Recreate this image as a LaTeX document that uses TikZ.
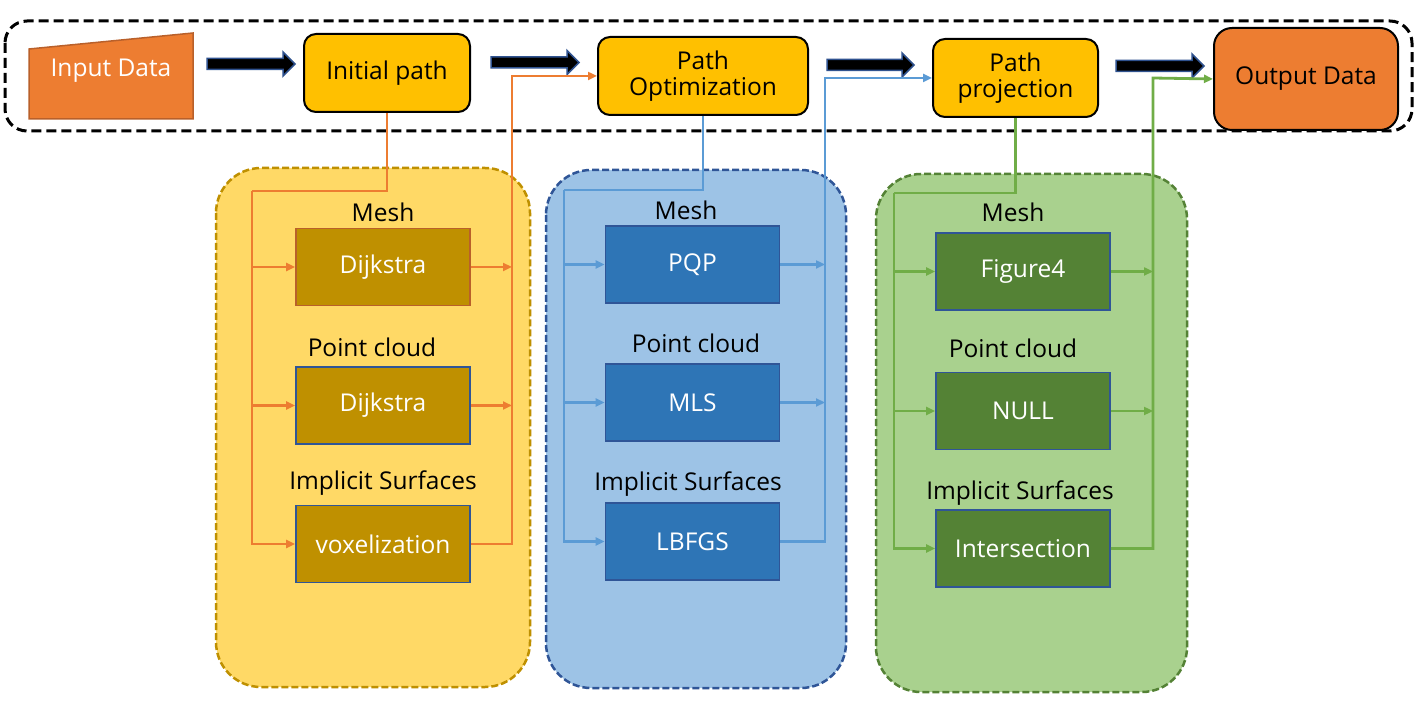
\documentclass[tikz,border=0pt]{standalone}
\usepackage{fontspec}
\setmainfont{Open Sans}
\usetikzlibrary{arrows.meta}
\definecolor{orng}{HTML}{ED7D31}
\definecolor{orngdark}{HTML}{B9602A}
\definecolor{gold}{HTML}{FFC000}
\definecolor{arrowblue}{HTML}{2F528F}
\definecolor{ypanel}{HTML}{FFD966}
\definecolor{ypanelb}{HTML}{BF9000}
\definecolor{ybox}{HTML}{BF9000}
\definecolor{bpanel}{HTML}{9DC3E6}
\definecolor{bpanelb}{HTML}{2F5597}
\definecolor{bbox}{HTML}{2E75B6}
\definecolor{gpanel}{HTML}{A9D18E}
\definecolor{gpanelb}{HTML}{548235}
\definecolor{gbox}{HTML}{548235}
\definecolor{bline}{HTML}{5B9BD5}
\definecolor{gline}{HTML}{70AD47}
\newcommand{\blockarr}[3]{%
  \fill[black,draw=arrowblue,line width=1.5pt] (#1,#3-5.5) -- (#2-12,#3-5.5) -- (#2-12,#3-12) -- (#2,#3) -- (#2-12,#3+12) -- (#2-12,#3+5.5) -- (#1,#3+5.5) -- cycle;}
\begin{document}
\begin{tikzpicture}[x=1pt,y=-1pt,
  font=\fontsize{24.5}{28}\selectfont,
  topbox/.style={draw=black, line width=2pt, rounded corners=12pt, fill=gold, align=center, inner sep=0pt},
  panel/.style={line width=2.5pt, dash pattern=on 7pt off 3pt, rounded corners=45pt},
  ibox/.style={draw=bpanelb, line width=1.8pt, fill=#1, text=white, minimum width=174pt, minimum height=77pt, inner sep=0pt},
  lbl/.style={text=black, inner sep=0pt},
  conn/.style={draw=#1, line width=2.8pt},
  tip/.style={-{Triangle[length=9pt,width=8pt]}}
]
\useasboundingbox (0,0) rectangle (1428,719);
\fill[white] (0,0) rectangle (1428,719);

% outer dashed frame
\draw[black, line width=3pt, dash pattern=on 10pt off 5pt, rounded corners=22pt] (5,21) rectangle (1412,131);

% input trapezoid
\draw[fill=orng, draw=orngdark, line width=1.5pt] (29,49) -- (193,33) -- (193,119) -- (29,119) -- cycle;
\node[text=white, inner sep=0pt] (input) at (111,71) {Input Data};

% top nodes
\node[topbox, minimum width=166pt, minimum height=78pt] (init) at (387,73) {Initial path};
\node[topbox, minimum width=210pt, minimum height=78pt] (opt) at (703,76) {Path\\[-2pt]Optimization};
\node[topbox, minimum width=165pt, minimum height=78pt] (proj) at (1015.5,78) {Path\\[-2pt]projection};
\node[topbox, fill=orng, rounded corners=18pt, minimum width=184pt, minimum height=102pt] (out) at (1306,79) {Output Data};

% block arrows
\blockarr{207}{295}{64}
\blockarr{491}{579}{62.5}
\blockarr{827}{914}{65}
\blockarr{1116}{1204}{66}

% panels
\draw[panel, fill=ypanel, draw=ypanelb] (216,168) rectangle (530,687);
\draw[panel, fill=bpanel, draw=bpanelb] (546,170) rectangle (846,688);
\draw[panel, fill=gpanel, draw=gpanelb] (876,174) rectangle (1187,692);

% yellow panel content
\node[lbl] (ymesh) at (383,212) {Mesh};
\node[lbl] (ypc) at (372,347) {Point cloud};
\node[lbl] (yimp) at (383,483) {Implicit Surfaces};
\node[ibox=ybox, draw=orngdark] (dij1) at (383,267) {Dijkstra};
\node[ibox=ybox] (dij2) at (383,405.5) {Dijkstra};
\node[ibox=ybox] (vox) at (383,544) {voxelization};

% blue panel content
\node[lbl] (bmesh) at (686,210) {Mesh};
\node[lbl] (bpc) at (696,343) {Point cloud};
\node[lbl] (bimp) at (688,484) {Implicit Surfaces};
\node[ibox=bbox] (pqp) at (692.5,264.5) {PQP};
\node[ibox=bbox] (mls) at (692.5,402.5) {MLS};
\node[ibox=bbox] (lbfgs) at (692.5,541.5) {LBFGS};

% green panel content
\node[lbl] (gmesh) at (1013,212) {Mesh};
\node[lbl] (gpc) at (1013,348) {Point cloud};
\node[lbl] (gimp) at (1020,493) {Implicit Surfaces};
\node[ibox=gbox] (fig4) at (1023,271.5) {Figure4};
\node[ibox=gbox] (null) at (1023,411) {NULL};
\node[ibox=gbox] (inter) at (1023,548.5) {Intersection};

% orange connectors
\coordinate (oL) at (252,191);
\coordinate (oR) at (512,76);
\draw[conn=orng] (init.south) |- (oL);
\draw[conn=orng, tip] (oL) |- (vox.west);
\draw[conn=orng, tip] (oL |- dij1.west) -- (dij1.west);
\draw[conn=orng, tip] (oL |- dij2.west) -- (dij2.west);
\draw[conn=orng, tip] (dij1.east) -- (dij1.east -| oR);
\draw[conn=orng, tip] (dij2.east) -- (dij2.east -| oR);
\draw[conn=orng, tip] (vox.east) -| (oR) -- (opt.west);

% blue connectors
\coordinate (bL) at (564,190);
\coordinate (bR) at (825,78);
\draw[conn=bline] (opt.south) |- (bL);
\draw[conn=bline, tip] (bL) |- (lbfgs.west);
\draw[conn=bline, tip] (bL |- pqp.west) -- (pqp.west);
\draw[conn=bline, tip] (bL |- mls.west) -- (mls.west);
\draw[conn=bline, tip] (pqp.east) -- (pqp.east -| bR);
\draw[conn=bline, tip] (mls.east) -- (mls.east -| bR);
\draw[conn=bline, tip] (lbfgs.east) -| (bR) -- (proj.west);

% green connectors
\coordinate (gL) at (894,193);
\coordinate (gR) at (1153,78);
\draw[conn=gline] (proj.south) |- (gL);
\draw[conn=gline, tip] (gL) |- (inter.west);
\draw[conn=gline, tip] (gL |- fig4.west) -- (fig4.west);
\draw[conn=gline, tip] (gL |- null.west) -- (null.west);
\draw[conn=gline, tip] (fig4.east) -- (fig4.east -| gR);
\draw[conn=gline, tip] (null.east) -- (null.east -| gR);
\draw[conn=gline, tip] (inter.east) -| (gR) -- (out.west);
\end{tikzpicture}
\end{document}
